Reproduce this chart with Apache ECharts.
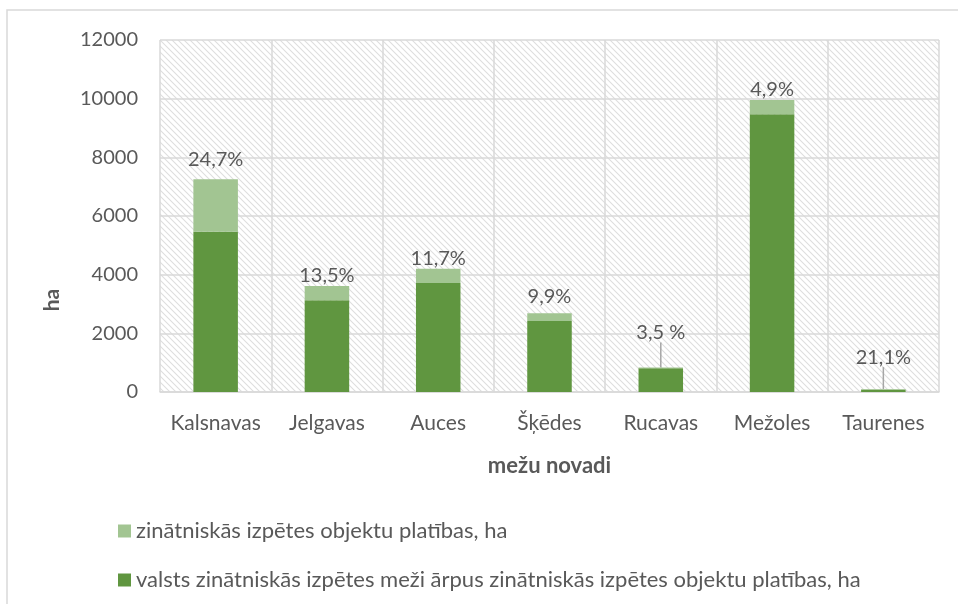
<!DOCTYPE html>
<html>
<head>
<meta charset="utf-8">
<script src="https://cdn.jsdelivr.net/npm/echarts@6/dist/echarts.min.js"></script>
<style>
  html, body { margin: 0; padding: 0; background: #fff; }
  #main { width: 958px; height: 604px; }
</style>
</head>
<body>
<div id="main"></div>
<script>
// mežu novadi
const categories = ['Kalsnavas', 'Jelgavas', 'Auces', 'Šķēdes', 'Rucavas', 'Mežoles', 'Taurenes'];
// valsts zinātniskās izpētes meži ārpus objektu platībām, ha
const outsideArea = [5460, 3125, 3713, 2420, 810, 9470, 79];
// zinātniskās izpētes objektu platības, ha
const objectArea = [1790, 488, 492, 266, 29, 488, 21];
const percentLabels = ['24,7%', '13,5%', '11,7%', '9,9%', '3,5 %', '4,9%', '21,1%'];
// label gap above the bar; the two small bars get a leader line instead
const labelGap = [10, 0, 0, 7, 0, 0, 0];
const labelLift = [0, 0, 0, 0, 25, 0, 22];
const yTicks = [0, 2000, 4000, 6000, 8000, 10000, 12000];

const textColor = '#595959';
const fontFam = 'Lato, "Noto Sans", sans-serif';

// diagonal hatch for the plot background
const hatch = document.createElement('canvas');
hatch.width = 6; hatch.height = 6;
const hc = hatch.getContext('2d');
hc.fillStyle = '#ffffff';
hc.fillRect(0, 0, 6, 6);
hc.strokeStyle = '#dedede';
hc.lineWidth = 1.1;
hc.beginPath();
hc.moveTo(-1, -1); hc.lineTo(7, 7);
hc.moveTo(-4, 2); hc.lineTo(4, 10);
hc.moveTo(2, -4); hc.lineTo(10, 4);
hc.stroke();

const topData = objectArea.map((v, i) => ({
    value: v,
    label: { distance: labelGap[i] },
    labelLine: { show: labelLift[i] > 0 }
}));

const chart = echarts.init(document.getElementById('main'));

chart.setOption({
    animation: false,
    backgroundColor: '#fff',
    textStyle: { fontFamily: fontFam },
    grid: {
        left: 160, right: 19, top: 40, bottom: 212,
        show: true,
        backgroundColor: { image: hatch, repeat: 'repeat' },
        borderWidth: 0
    },
    legend: {
        orient: 'vertical',
        left: 113,
        top: 515,
        itemWidth: 13,
        itemHeight: 13,
        itemGap: 27,
        icon: 'rect',
        textStyle: { color: textColor, fontSize: 22, fontFamily: fontFam },
        data: ['zinātniskās izpētes objektu platības, ha', 'valsts zinātniskās izpētes meži ārpus zinātniskās izpētes objektu platības, ha']
    },
    graphic: [
        {
            type: 'rect',
            shape: { x: 7, y: 10, width: 1000, height: 700 },
            style: { fill: 'none', stroke: '#d9d9d9', lineWidth: 1.5 },
            silent: true
        },
        {
            type: 'text',
            x: 52, y: 300,
            rotation: Math.PI / 2,
            style: {
                text: 'ha', fill: textColor, fontSize: 21, fontWeight: 'bold',
                fontFamily: fontFam, align: 'center', verticalAlign: 'middle'
            }
        }
    ],
    xAxis: {
        type: 'category',
        data: categories,
        name: 'mežu novadi',
        nameLocation: 'middle',
        nameGap: 63,
        nameTextStyle: { color: textColor, fontSize: 22, fontWeight: 'bold' },
        axisLine: { show: true, lineStyle: { color: '#d9d9d9', width: 1.5 } },
        axisTick: { show: false },
        axisLabel: { color: textColor, fontSize: 21, margin: 21, interval: 0, hideOverlap: false },
        splitLine: { show: true, interval: 0, lineStyle: { color: '#d9d9d9', width: 1.5 } }
    },
    yAxis: {
        type: 'value',
        min: 0,
        max: 12000,
        interval: 2000,
        axisLine: { show: false },
        axisTick: { show: false },
        axisLabel: {
            color: textColor, fontSize: 20, margin: 22,
            formatter: v => yTicks.includes(v) ? String(v) : ''
        },
        splitLine: { show: true, lineStyle: { color: '#d9d9d9', width: 1.5 } }
    },
    series: [
        {
            name: 'valsts zinātniskās izpētes meži ārpus zinātniskās izpētes objektu platības, ha',
            type: 'bar',
            stack: 'total',
            barWidth: '40%',
            itemStyle: { color: '#609640' },
            data: outsideArea
        },
        {
            name: 'zinātniskās izpētes objektu platības, ha',
            type: 'bar',
            stack: 'total',
            barWidth: '40%',
            itemStyle: { color: '#a2c592' },
            label: {
                show: true,
                position: 'top',
                color: textColor,
                fontSize: 20,
                formatter: p => percentLabels[p.dataIndex]
            },
            labelLine: { lineStyle: { color: '#a6a6a6', width: 1.5 }, length2: 0 },
            labelLayout: p => ({ dy: -labelLift[p.dataIndex] }),
            data: topData
        }
    ]
});
</script>
</body>
</html>
